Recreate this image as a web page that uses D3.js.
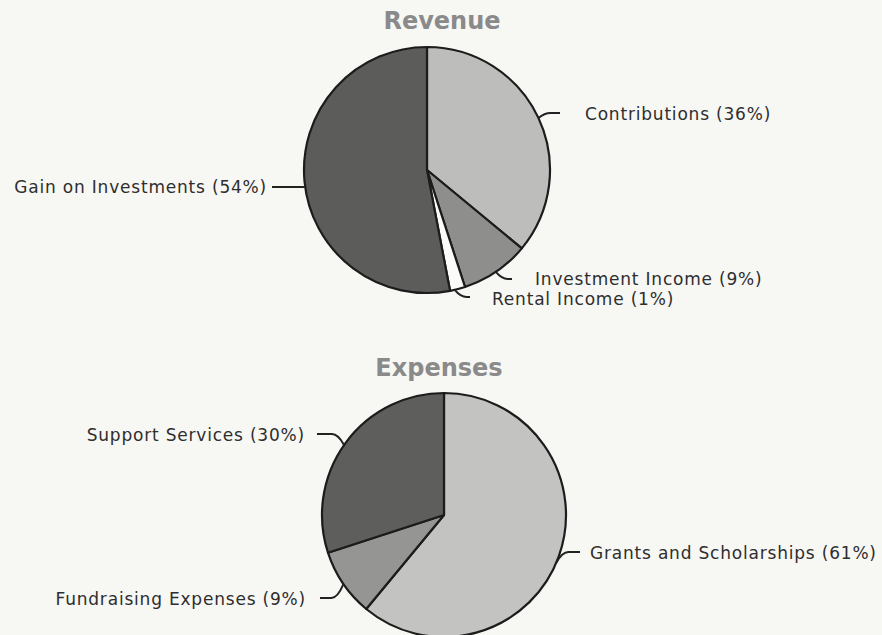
<!DOCTYPE html>
<html>
<head>
<meta charset="utf-8">
<script src="https://cdn.jsdelivr.net/npm/d3@7"></script>
<style>
  html, body { margin: 0; padding: 0; background: #f7f7f4; }
  #chart { width: 882px; height: 635px; }
  .title { font-family: "DejaVu Sans", sans-serif; font-weight: bold; font-size: 24px; fill: #8a8a8a; }
  .label { font-family: "DejaVu Sans", sans-serif; font-size: 17px; letter-spacing: 0.8px; fill: #2e2e2e; }
</style>
</head>
<body>
<div id="chart"></div>
<script>
// revenue
const revenueCategories = ["Contributions", "Investment Income", "Rental Income", "Gain on Investments"];
const revenuePercents = [36, 9, 1, 54];       // printed in the labels
const revenueValues = [36, 9, 2, 53];         // slice sizes as drawn
const revenueColors = ["#bdbdbb", "#8e8e8c", "#fbfbfa", "#5c5c5a"];

// expenses
const expenseCategories = ["Grants and Scholarships", "Fundraising Expenses", "Support Services"];
const expensePercents = [61, 9, 30];
const expenseValues = [61, 9, 30];
const expenseColors = ["#c3c3c1", "#959593", "#5e5e5c"];

const width = 882;
const height = 635;

const svg = d3
  .select("#chart")
  .append("svg")
  .attr("width", width)
  .attr("height", height);

const pie = d3.pie().sort(null).value((d) => d);

function drawPie(opts) {
  const g = svg.append("g").attr("transform", "translate(" + opts.cx + "," + opts.cy + ")");
  const arc = d3.arc().innerRadius(0).outerRadius(opts.r);
  g.selectAll("path.slice")
    .data(pie(opts.values))
    .enter()
    .append("path")
    .attr("class", "slice")
    .attr("d", arc)
    .attr("fill", (d, i) => opts.colors[i])
    .attr("stroke", "#1c1c1c")
    .attr("stroke-width", 2.2)
    .attr("stroke-linejoin", "round");

  svg.append("text")
    .attr("class", "title")
    .attr("x", opts.titleX)
    .attr("y", opts.titleY)
    .attr("text-anchor", "middle")
    .text(opts.title);

  // leader hooks + labels
  opts.layout.forEach((l, i) => {
    const a = (l.angle * Math.PI) / 180;
    const x0 = opts.cx + opts.r * Math.sin(a);
    const y0 = opts.cy - opts.r * Math.cos(a);
    const dir = l.anchor === "end" ? -1 : 1;
    const hook = d3.path();
    hook.moveTo(x0, y0);
    hook.quadraticCurveTo(x0 + dir * 6, l.lineY, x0 + dir * 12, l.lineY);
    hook.lineTo(l.lineEnd, l.lineY);
    svg.append("path")
      .attr("d", hook.toString())
      .attr("fill", "none")
      .attr("stroke", "#222")
      .attr("stroke-width", 2);

    svg.append("text")
      .attr("class", "label")
      .attr("x", l.lineEnd + dir * l.gap)
      .attr("y", l.lineY + l.dy)
      .attr("text-anchor", l.anchor)
      .text(opts.categories[i] + " (" + opts.percents[i] + "%)");
  });
}

drawPie({
  title: "Revenue",
  titleX: 442,
  titleY: 29,
  cx: 427,
  cy: 170,
  r: 123,
  values: revenueValues,
  percents: revenuePercents,
  categories: revenueCategories,
  colors: revenueColors,
  layout: [
    { angle: 65, lineY: 113, lineEnd: 560, gap: 25, anchor: "start", dy: 7 },
    { angle: 146, lineY: 279, lineEnd: 512, gap: 23, anchor: "start", dy: 6 },
    { angle: 167, lineY: 297, lineEnd: 470, gap: 22, anchor: "start", dy: 8 },
    { angle: 262, lineY: 187, lineEnd: 272, gap: 5, anchor: "end", dy: 6 },
  ],
});

drawPie({
  title: "Expenses",
  titleX: 439,
  titleY: 376,
  cx: 444,
  cy: 515,
  r: 122,
  values: expenseValues,
  percents: expensePercents,
  categories: expenseCategories,
  colors: expenseColors,
  layout: [
    { angle: 113, lineY: 552, lineEnd: 580, gap: 10, anchor: "start", dy: 7 },
    { angle: 235.5, lineY: 598, lineEnd: 320, gap: 14, anchor: "end", dy: 7 },
    { angle: 305, lineY: 434, lineEnd: 317, gap: 12, anchor: "end", dy: 7 },
  ],
});
</script>
</body>
</html>
